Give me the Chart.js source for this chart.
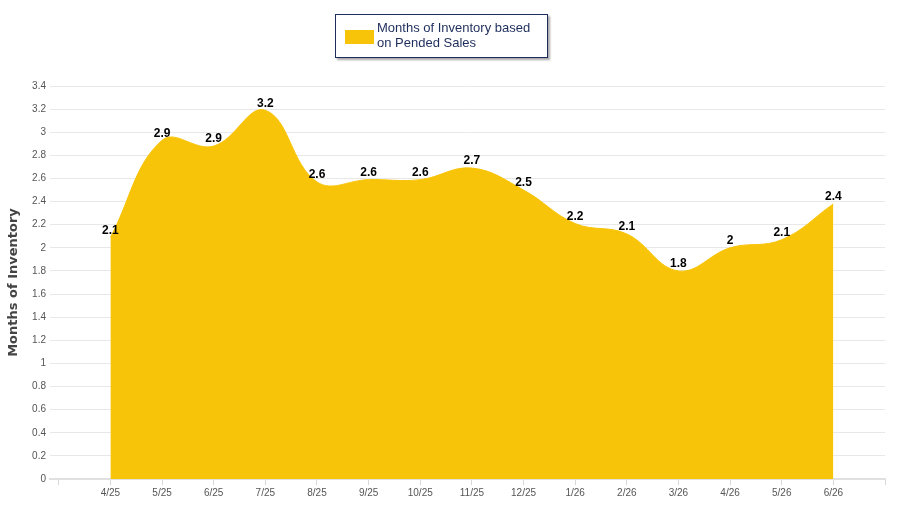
<!DOCTYPE html>
<html lang="en">
<head>
  <meta charset="UTF-8">
  <title>Months of Inventory based on Pended Sales</title>
  <script src="https://cdn.jsdelivr.net/npm/chart.js"></script>
  <style>
    html, body { margin: 0; padding: 0; background: #fff; }
    .wrap { position: relative; width: 900px; height: 509px; }
    /* Legend box drawn as html on top of the canvas */
    .legend-box {
      position: absolute; left: 335px; top: 14px; width: 211px; height: 42px;
      border: 1px solid #1d2d5c; background: #fff;
      box-shadow: 2px 2px 2px rgba(0,0,0,0.35);
      font-family: "Liberation Sans", Arial, sans-serif; font-size: 13px; color: #1d2d5c;
    }
    .legend-box .swatch {
      position: absolute; left: 9px; top: 15px; width: 29px; height: 14px; background: #F8C409;
    }
    .legend-box .txt { position: absolute; left: 41px; top: 5px; line-height: 15px; }
  </style>
</head>
<body>
  <div class="wrap">
    <canvas id="inventoryChart" width="900" height="509"></canvas>
    <div class="legend-box"><div class="swatch"></div><div class="txt" id="legendText"></div></div>
  </div>

  <script>
    const months = ['4/25', '5/25', '6/25', '7/25', '8/25', '9/25', '10/25', '11/25', '12/25',
                    '1/26', '2/26', '3/26', '4/26', '5/26', '6/26'];
    const inventory = [2.09, 2.93, 2.88, 3.19, 2.57, 2.59, 2.59, 2.69, 2.5, 2.21, 2.12, 1.8, 2.0, 2.07, 2.38];
    const seriesName = ['Months of Inventory based', 'on Pended Sales'];
    const yTitle = 'Months of Inventory';

    document.getElementById('legendText').innerHTML = seriesName.join('<br>');

    // value labels above every point
    const pointLabels = {
      id: 'pointLabels',
      afterDatasetsDraw(chart) {
        const ctx = chart.ctx;
        const meta = chart.getDatasetMeta(0);
        ctx.save();
        ctx.font = 'bold 12px "Liberation Sans", Arial, sans-serif';
        ctx.fillStyle = '#000';
        ctx.textAlign = 'center';
        ctx.textBaseline = 'bottom';
        meta.data.forEach((pt, i) => {
          const v = Math.round(inventory[i] * 10) / 10;
          ctx.fillText(String(v), pt.x, pt.y - 1);
        });
        ctx.restore();
      }
    };

    const ctx = document.getElementById('inventoryChart').getContext('2d');
    new Chart(ctx, {
      type: 'line',
      data: {
        datasets: [{
          label: seriesName.join(' '),
          data: inventory.map((v, i) => ({ x: i, y: v })),
          backgroundColor: '#F8C409',
          borderColor: '#F8C409',
          borderWidth: 1,
          fill: 'origin',
          tension: 0.4,
          pointRadius: 0
        }]
      },
      options: {
        responsive: false,
        animation: false,
        layout: { padding: { top: 86, right: 15, left: 0, bottom: 0 } },
        plugins: { legend: { display: false }, tooltip: { enabled: false } },
        scales: {
          x: {
            type: 'linear',
            min: -1.17,
            max: 15,
            afterBuildTicks(axis) {
              const t = [];
              for (let i = -1; i <= months.length; i++) t.push({ value: i });
              axis.ticks = t;
            },
            afterFit(axis) { axis.height = 30; },
            ticks: {
              autoSkip: false,
              maxRotation: 0,
              padding: 2,
              color: '#555',
              font: { family: '"Liberation Sans", Arial, sans-serif', size: 10 },
              callback: (v) => months[v] || ''
            },
            grid: { drawOnChartArea: false, tickLength: 6, color: '#d8d8d8' },
            border: { color: '#e0e0e0', width: 2 }
          },
          y: {
            min: 0,
            max: 3.4,
            afterFit(axis) { axis.width = 50; },
            ticks: {
              stepSize: 0.2,
              padding: 4,
              color: '#555',
              font: { family: '"Liberation Sans", Arial, sans-serif', size: 10 },
              callback: (v) => String(Math.round(v * 10) / 10)
            },
            grid: { color: '#e8e8e8', drawTicks: false },
            border: { display: false },
            title: {
              display: true,
              text: yTitle,
              color: '#444',
              padding: { top: 6, bottom: 2 },
              font: { family: '"DejaVu Sans", Verdana, sans-serif', size: 13, weight: 'bold' }
            }
          }
        }
      },
      plugins: [pointLabels]
    });
  </script>
</body>
</html>
